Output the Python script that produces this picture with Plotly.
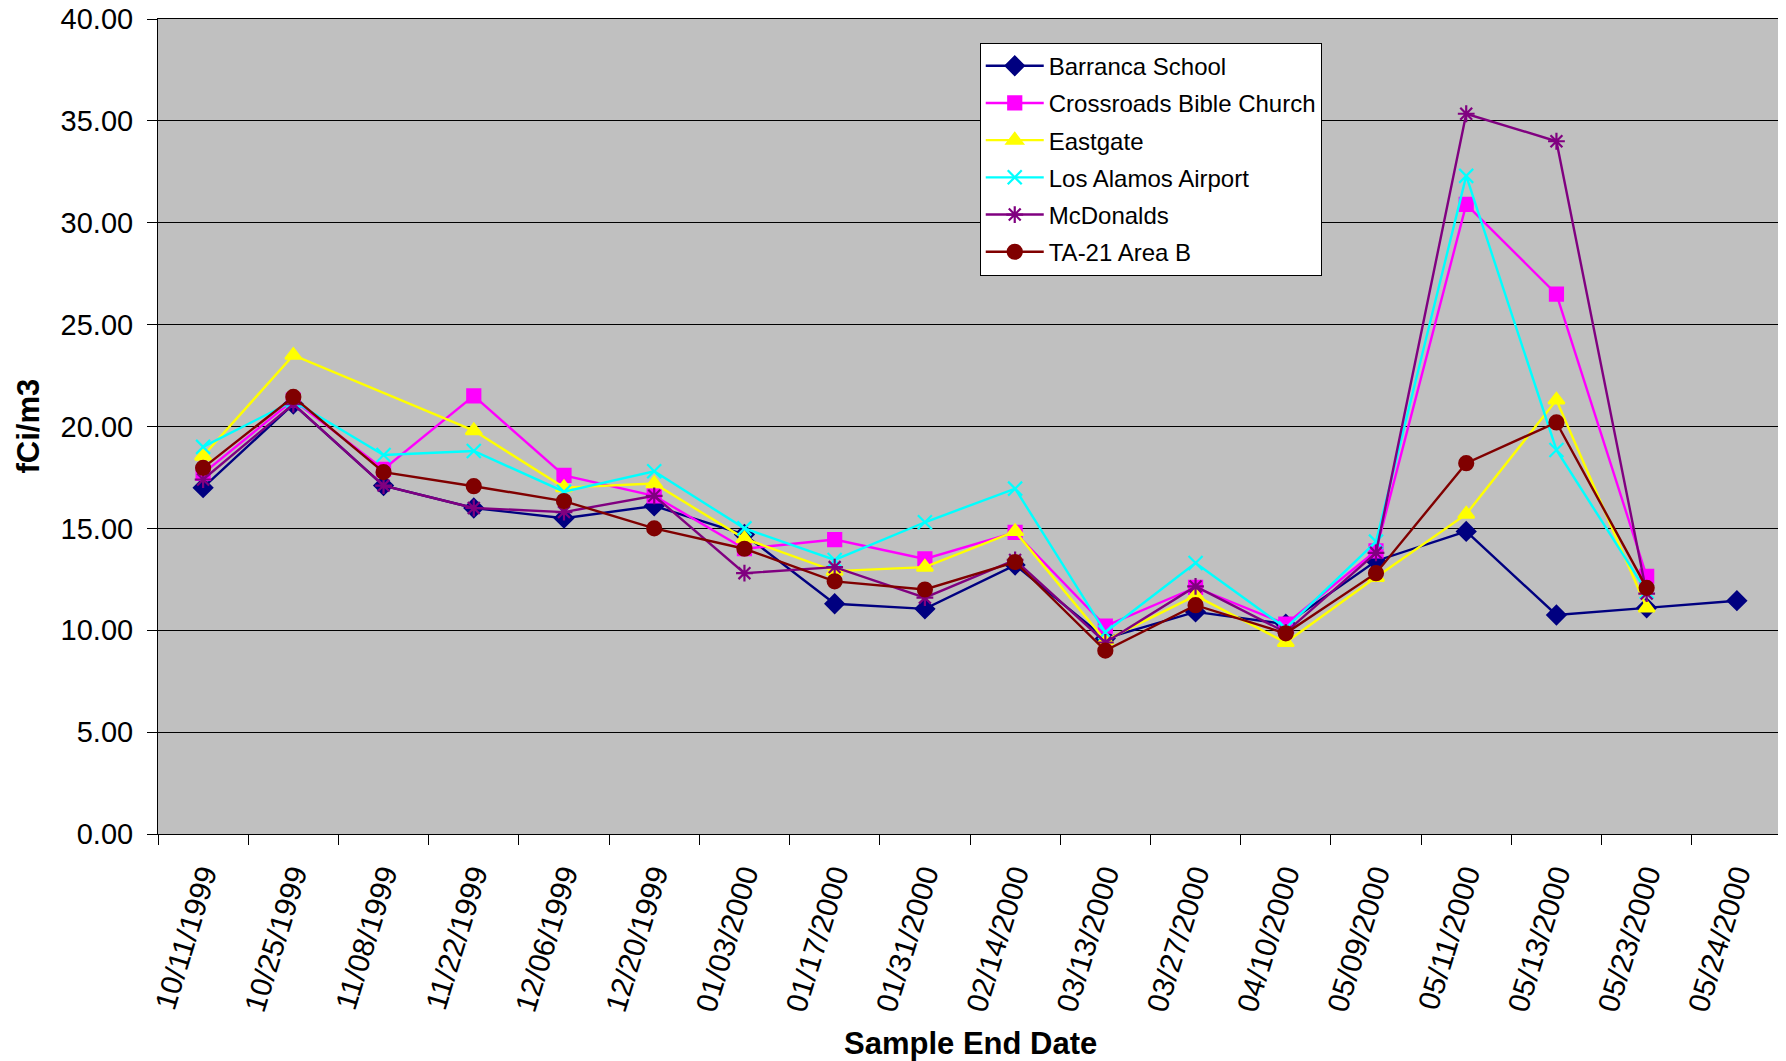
import plotly.graph_objects as go

dates = ["10/11/1999", "10/25/1999", "11/08/1999", "11/22/1999", "12/06/1999",
         "12/20/1999", "01/03/2000", "01/17/2000", "01/31/2000", "02/14/2000",
         "03/13/2000", "03/27/2000", "04/10/2000", "05/09/2000", "05/11/2000",
         "05/13/2000", "05/23/2000", "05/24/2000"]

barranca = [17.0, 21.1, 17.1, 16.0, 15.5, 16.1, 14.7, 11.3, 11.05, 13.2,
            9.6, 10.9, 10.3, 13.4, 14.85, 10.75, 11.1, 11.45]
crossroads = [17.7, 21.3, 17.9, 21.5, 17.6, 16.6, 14.0, 14.45, 13.5, 14.8,
              10.2, 12.1, 10.3, 13.9, 30.9, 26.5, 12.65, None]
eastgate = [18.55, 23.5, None, 19.8, 17.0, 17.2, 14.5, 12.9, 13.1, 14.85,
            9.5, 11.7, 9.4, 12.6, 15.7, 21.3, 11.1, None]
airport = [19.0, 21.25, 18.6, 18.8, 16.8, 17.8, 15.0, 13.45, 15.3, 16.95,
           9.9, 13.3, 10.1, 14.35, 32.3, 18.85, 11.9, None]
mcdonalds = [17.4, 21.1, 17.1, 16.0, 15.8, 16.6, 12.8, 13.1, 11.6, 13.45,
             9.4, 12.15, 9.9, 13.8, 35.35, 34.0, 11.8, None]
ta21 = [17.97, 21.45, 17.76, 17.07, 16.34, 15.0, 14.0, 12.4, 12.0, 13.35,
        9.0, 11.23, 9.85, 12.8, 18.2, 20.2, 12.08, None]

y_ticks = [0, 5, 10, 15, 20, 25, 30, 35, 40]

series = [
    ("Barranca School", barranca, "#000080", "diamond", 14),
    ("Crossroads Bible Church", crossroads, "#FF00FF", "square", 13),
    ("Eastgate", eastgate, "#FFFF00", "triangle-up", 14),
    ("Los Alamos Airport", airport, "#00FFFF", "x-thin-open", 14),
    ("McDonalds", mcdonalds, "#800080", "asterisk-open", 14),
    ("TA-21 Area B", ta21, "#800000", "circle", 14),
]

FONT = "Arial, Liberation Sans, sans-serif"

fig = go.Figure()
for name, vals, color, symbol, size in series:
    fig.add_trace(go.Scatter(
        x=dates, y=vals, name=name, mode="lines+markers",
        connectgaps=True, legendgroup=name,
        line=dict(color=color, width=2.4),
        marker=dict(symbol=symbol, size=size, color=color,
                    line=dict(color=color, width=2.2)),
    ))

fig.update_layout(
    width=1778, height=1053,
    margin=dict(l=150, r=4, t=11, b=227, autoexpand=False),
    paper_bgcolor="white",
    plot_bgcolor="#C0C0C0",
    font=dict(family=FONT, color="black"),
    showlegend=True,
    legend=dict(
        x=0.506, y=0.971, xanchor="left", yanchor="top",
        bgcolor="white", bordercolor="black", borderwidth=1,
        font=dict(size=24, family=FONT, color="black"),
        itemwidth=58, tracegroupgap=3,
    ),
    xaxis=dict(
        type="category",
        range=[-0.5, len(dates) - 0.5],
        tickson="boundaries",
        ticks="outside", ticklen=10, tickcolor="black", tickwidth=1,
        tickangle=-73,
        tickfont=dict(size=30, family=FONT, color="black"),
        showgrid=False,
        showline=True, linecolor="black", linewidth=1, mirror=True,
        ticklabelstandoff=10,
        ticklabeloverflow="allow",
        automargin=False,
    ),
    yaxis=dict(
        range=[0, 40],
        tickvals=y_ticks,
        tickformat=".2f",
        ticks="outside", ticklen=10, tickcolor="black", tickwidth=1,
        tickfont=dict(size=29, family=FONT, color="black"),
        showgrid=True, gridcolor="black", gridwidth=1,
        showline=True, linecolor="black", linewidth=1, mirror=True,
        zeroline=False,
        ticklabelstandoff=8,
        ticklabeloverflow="allow",
        automargin=False,
    ),
    annotations=[
        dict(text="<b>Sample End Date</b>", xref="paper", yref="paper",
             x=0.5, y=0, yshift=-209, xanchor="center", yanchor="middle",
             showarrow=False, font=dict(size=31, family=FONT, color="black")),
        dict(text="<b>fCi/m3</b>", xref="paper", yref="paper",
             x=0, y=0.5, xshift=-130, xanchor="center", yanchor="middle",
             textangle=-90, showarrow=False,
             font=dict(size=31, family=FONT, color="black")),
    ],
)

fig.write_html("out.html")
